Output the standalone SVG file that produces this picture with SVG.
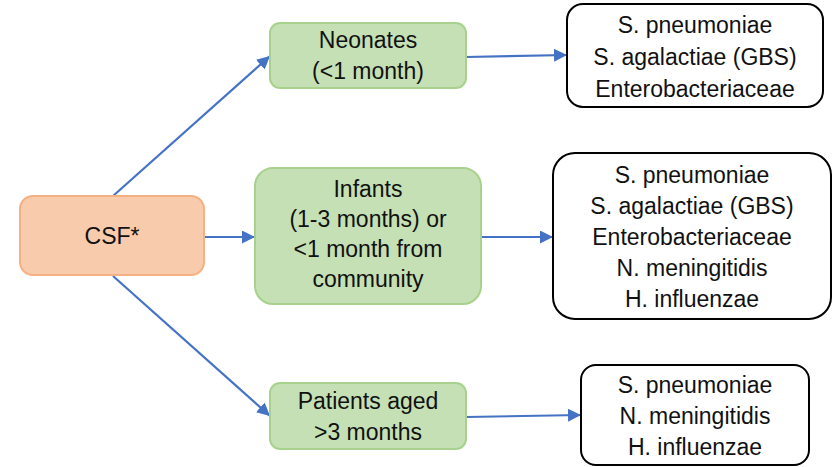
<svg xmlns="http://www.w3.org/2000/svg" width="832" height="467" viewBox="0 0 832 467">
<style>
  text { font-family: "Liberation Sans", Arial, sans-serif; font-size: 23px; fill: #111111; text-anchor: middle; }
  .src { fill: #F8CBAD; stroke: #F4B183; stroke-width: 2; }
  .grp { fill: #C5E0B4; stroke: #A9D18E; stroke-width: 2; }
  .res { fill: #FFFFFF; stroke: #000000; stroke-width: 2; }
  .conn { stroke: #4472C4; stroke-width: 2.2; fill: none; marker-end: url(#arr); }
</style>
<defs>
  <marker id="arr" markerUnits="userSpaceOnUse" markerWidth="13" markerHeight="13" refX="13" refY="6.5" orient="auto">
    <path d="M0,0 L13,6.5 L0,13 z" fill="#4472C4"/>
  </marker>
</defs>
<rect width="832" height="467" fill="#FFFFFF"/>
<g id="connectors">
  <line class="conn" x1="113" y1="196" x2="270" y2="56"/>
  <line class="conn" x1="204" y1="237" x2="255" y2="237"/>
  <line class="conn" x1="113" y1="276" x2="270" y2="416"/>
  <line class="conn" x1="466" y1="57" x2="567" y2="55"/>
  <line class="conn" x1="481" y1="237" x2="553" y2="237"/>
  <line class="conn" x1="466" y1="417" x2="581" y2="415"/>
</g>
<g id="csf">
  <rect class="src" x="20" y="196" width="184" height="79" rx="13"/>
  <text x="112" y="244">CSF*</text>
</g>
<g id="neonates">
  <rect class="grp" x="270" y="23" width="196" height="65" rx="10"/>
  <text x="368" y="48">Neonates</text>
  <text x="368" y="79">(&lt;1 month)</text>
</g>
<g id="infants">
  <rect class="grp" x="255" y="168" width="226" height="136" rx="18"/>
  <text x="368" y="197">Infants</text>
  <text x="368" y="227">(1-3 months) or</text>
  <text x="368" y="257">&lt;1 month from</text>
  <text x="368" y="287">community</text>
</g>
<g id="patients">
  <rect class="grp" x="270" y="383" width="196" height="66" rx="10"/>
  <text x="368" y="409">Patients aged</text>
  <text x="368" y="440">&gt;3 months</text>
</g>
<g id="result-neonates">
  <rect class="res" x="567" y="4" width="256" height="103" rx="16"/>
  <text x="695" y="33">S. pneumoniae</text>
  <text x="695" y="65">S. agalactiae (GBS)</text>
  <text x="695" y="97">Enterobacteriaceae</text>
</g>
<g id="result-infants">
  <rect class="res" x="553" y="153" width="278" height="166" rx="22"/>
  <text x="692" y="183">S. pneumoniae</text>
  <text x="692" y="214">S. agalactiae (GBS)</text>
  <text x="692" y="245">Enterobacteriaceae</text>
  <text x="692" y="276">N. meningitidis</text>
  <text x="692" y="307">H. influenzae</text>
</g>
<g id="result-patients">
  <rect class="res" x="581" y="365" width="228" height="100" rx="15"/>
  <text x="695" y="393">S. pneumoniae</text>
  <text x="695" y="424">N. meningitidis</text>
  <text x="695" y="455">H. influenzae</text>
</g>
</svg>
